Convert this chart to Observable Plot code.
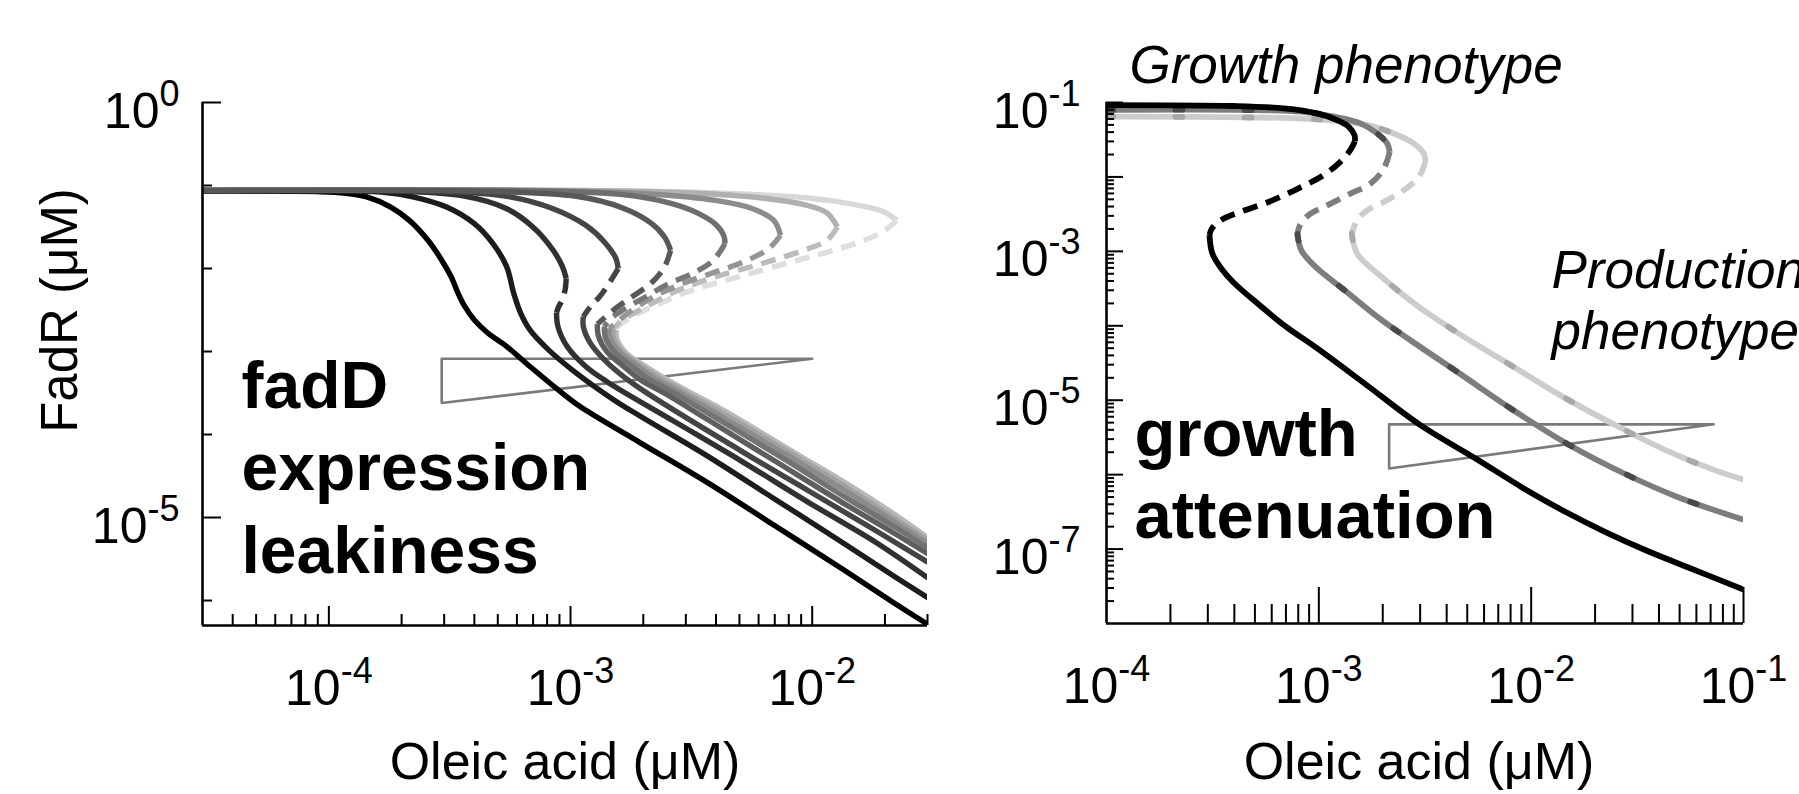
<!DOCTYPE html>
<html><head><meta charset="utf-8">
<script src="https://cdn.jsdelivr.net/npm/d3@7"></script>
<script src="https://cdn.jsdelivr.net/npm/@observablehq/plot@0.6"></script>
<style>
body{margin:0;background:#fff;}
#wrap{position:relative;width:1799px;height:794px;overflow:hidden;background:#fff;}
#left,#right{position:absolute;top:0;}
#left{left:0;} #right{left:940px;}
</style></head><body><div id="wrap"><div id="left"></div><div id="right"></div></div>
<script>
// ---------- text ----------
const xLabel = "Oleic acid (μM)";
const yLabelLeft = "FadR (μM)";
const leftNote = "fadD\nexpression\nleakiness";
const rightNote = "growth\nattenuation";
const growthText = "Growth phenotype";
const productionText = "Production\nphenotype";

// ---------- axes ----------
const leftXDomain = [3e-5, 3e-2];
const leftYDomain = [5e-7, 1];
const leftXLabelTicks = [1e-4, 1e-3, 1e-2];
const leftXMinorTicks = [4e-5,5e-5,6e-5,7e-5,8e-5,9e-5,2e-4,3e-4,4e-4,5e-4,6e-4,7e-4,8e-4,9e-4,2e-3,3e-3,4e-3,5e-3,6e-3,7e-3,8e-3,9e-3,2e-2,3e-2];
const leftYLabelTicks = [1, 1e-5];
const leftYShortTicks = [1e-1, 1e-2, 1e-3, 1e-4, 1e-6];

const rightXDomain = [1e-4, 1e-1];
const rightYDomain = [1e-8, 1e-1];
const rightXLabelTicks = [1e-4, 1e-3, 1e-2, 1e-1];
const rightXMajorTicks = [1e-3, 1e-2, 1e-1];
const rightYLabelTicks = [1e-1, 1e-3, 1e-5, 1e-7];
const rightYMajorTicks = [1e-1, 1e-2, 1e-3, 1e-4, 1e-5, 1e-6, 1e-7];
const mantissas = [2, 3, 4, 5, 6, 7, 8, 9];
const rightXMinorTicks = [1e-4, 1e-3, 1e-2].flatMap(d => mantissas.map(m => m * d));
const rightYMinorTicks = [1e-8, 1e-7, 1e-6, 1e-5, 1e-4, 1e-3, 1e-2].flatMap(d => mantissas.map(m => m * d));

// ---------- left panel curves: [log10 oleic, log10 FadR] ----------
const A_solid = [[-4.53,-1.068],[-4.032,-1.075],[-3.936,-1.092],[-3.840,-1.14],[-3.744,-1.26],[-3.667,-1.42],[-3.590,-1.66],[-3.533,-1.90],[-3.494,-2.10],[-3.465,-2.30],[-3.437,-2.46],[-3.398,-2.62],[-3.341,-2.78],[-3.264,-2.94],[-3.168,-3.18],[-3.052,-3.46],[-2.962,-3.66],[-2.711,-4.10],[-2.433,-4.58],[-2.154,-5.10],[-1.875,-5.62],[-1.666,-6.02],[-1.52,-6.29]];
const B_solid = [[-4.53,-1.068],[-3.90,-1.07],[-3.782,-1.08],[-3.648,-1.14],[-3.513,-1.26],[-3.398,-1.46],[-3.321,-1.70],[-3.264,-1.98],[-3.235,-2.30],[-3.206,-2.54],[-3.168,-2.74],[-3.091,-2.98],[-2.976,-3.26],[-2.822,-3.58],[-2.711,-3.78],[-2.433,-4.26],[-2.154,-4.78],[-1.875,-5.30],[-1.666,-5.70],[-1.52,-5.97]];
const C_upper = [[-4.53,-1.065],[-3.70,-1.07],[-3.456,-1.12],[-3.264,-1.28],[-3.148,-1.52],[-3.072,-1.78],[-3.033,-1.98],[-3.018,-2.12]];
const C_mid = [[-3.018,-2.12],[-3.022,-2.25],[-3.035,-2.38],[-3.049,-2.46],[-3.058,-2.53]];
const C_lower = [[-3.058,-2.53],[-3.052,-2.70],[-3.014,-2.94],[-2.937,-3.18],[-2.851,-3.36],[-2.572,-3.84],[-2.293,-4.32],[-2.014,-4.82],[-1.736,-5.30],[-1.52,-5.73]];
const D_upper = [[-4.53,-1.065],[-3.552,-1.07],[-3.264,-1.13],[-3.072,-1.28],[-2.937,-1.48],[-2.860,-1.68],[-2.812,-1.88],[-2.803,-2.00]];
const D_mid = [[-2.803,-2.00],[-2.841,-2.18],[-2.880,-2.34],[-2.918,-2.46],[-2.947,-2.58]];
const D_lower = [[-2.947,-2.58],[-2.947,-2.70],[-2.918,-2.90],[-2.860,-3.10],[-2.745,-3.38],[-2.293,-4.20],[-2.014,-4.68],[-1.736,-5.16],[-1.52,-5.54]];
const E_upper = [[-4.53,-1.06],[-3.360,-1.07],[-2.976,-1.13],[-2.784,-1.27],[-2.668,-1.45],[-2.611,-1.62],[-2.586,-1.78]];
const E_mid = [[-2.586,-1.78],[-2.611,-1.98],[-2.668,-2.18],[-2.745,-2.34],[-2.822,-2.50],[-2.870,-2.62],[-2.889,-2.67]];
const E_lower = [[-2.889,-2.67],[-2.884,-2.82],[-2.85,-3.00],[-2.78,-3.18],[-2.711,-3.34],[-2.60,-3.52],[-2.433,-3.82],[-2.154,-4.32],[-1.875,-4.82],[-1.666,-5.18],[-1.52,-5.44]];
const F_upper = [[-4.53,-1.058],[-3.168,-1.065],[-2.784,-1.11],[-2.592,-1.21],[-2.476,-1.33],[-2.399,-1.47],[-2.365,-1.61],[-2.361,-1.70]];
const F_mid = [[-2.361,-1.70],[-2.409,-1.90],[-2.496,-2.06],[-2.592,-2.18],[-2.688,-2.34],[-2.784,-2.50],[-2.841,-2.62],[-2.860,-2.70]];
const F_lower = [[-2.860,-2.70],[-2.855,-2.84],[-2.82,-3.00],[-2.75,-3.17],[-2.683,-3.32],[-2.57,-3.50],[-2.41,-3.78],[-2.13,-4.27],[-1.86,-4.76],[-1.655,-5.12],[-1.52,-5.37]];
const G_upper = [[-4.53,-1.056],[-3.168,-1.06],[-2.688,-1.10],[-2.400,-1.18],[-2.246,-1.28],[-2.159,-1.42],[-2.131,-1.60]];
const G_mid = [[-2.131,-1.60],[-2.179,-1.76],[-2.284,-1.92],[-2.419,-2.06],[-2.553,-2.20],[-2.668,-2.36],[-2.764,-2.54],[-2.812,-2.66],[-2.841,-2.72]];
const G_lower = [[-2.841,-2.72],[-2.836,-2.85],[-2.80,-3.00],[-2.73,-3.16],[-2.66,-3.31],[-2.55,-3.49],[-2.39,-3.76],[-2.11,-4.24],[-1.84,-4.72],[-1.645,-5.08],[-1.52,-5.32]];
const H_upper = [[-4.53,-1.054],[-2.976,-1.06],[-2.496,-1.09],[-2.208,-1.15],[-2.035,-1.23],[-1.939,-1.33],[-1.896,-1.50]];
const H_mid = [[-1.896,-1.50],[-1.939,-1.66],[-2.035,-1.78],[-2.208,-1.94],[-2.400,-2.10],[-2.553,-2.26],[-2.688,-2.46],[-2.784,-2.62],[-2.826,-2.73]];
const H_lower = [[-2.826,-2.73],[-2.82,-2.86],[-2.785,-3.01],[-2.715,-3.16],[-2.645,-3.30],[-2.535,-3.48],[-2.375,-3.74],[-2.10,-4.21],[-1.83,-4.69],[-1.64,-5.05],[-1.52,-5.28]];
const I_upper = [[-4.53,-1.052],[-2.976,-1.06],[-2.400,-1.09],[-2.016,-1.15],[-1.823,-1.23],[-1.708,-1.31],[-1.650,-1.42]];
const I_mid = [[-1.650,-1.42],[-1.708,-1.56],[-1.823,-1.70],[-1.958,-1.82],[-2.111,-1.94],[-2.304,-2.10],[-2.496,-2.26],[-2.630,-2.42],[-2.745,-2.58],[-2.803,-2.70],[-2.812,-2.74]];
const I_lower = [[-2.812,-2.74],[-2.806,-2.87],[-2.77,-3.02],[-2.70,-3.16],[-2.63,-3.29],[-2.52,-3.47],[-2.36,-3.72],[-2.09,-4.19],[-1.82,-4.66],[-1.63,-5.02],[-1.52,-5.25]];
const leftWedge = [[-3.533,-3.088],[-2.0,-3.088],[-3.533,-3.62],[-3.533,-3.088]];

// ---------- right panel curves ----------
const K_upper = [[-4.0,-1.034],[-3.400,-1.047],[-3.165,-1.079],[-3.008,-1.146],[-2.914,-1.236],[-2.859,-1.326],[-2.832,-1.438],[-2.83,-1.52]];
const K_mid = [[-2.83,-1.52],[-2.852,-1.64],[-2.900,-1.80],[-2.98,-1.98],[-3.10,-2.16],[-3.24,-2.34],[-3.38,-2.48],[-3.46,-2.58],[-3.505,-2.70],[-3.515,-2.78]];
const K_lower = [[-3.515,-2.78],[-3.501,-3.033],[-3.452,-3.258],[-3.403,-3.415],[-3.286,-3.707],[-3.150,-4.022],[-3.014,-4.291],[-2.780,-4.785],[-2.527,-5.324],[-2.254,-5.796],[-2.039,-6.178],[-1.844,-6.492],[-1.650,-6.771],[-1.455,-7.022],[-1.260,-7.247],[-1.0,-7.545]];
const M_upper = [[-4.0,-1.10],[-3.086,-1.124],[-2.929,-1.191],[-2.804,-1.281],[-2.725,-1.416],[-2.678,-1.551],[-2.666,-1.663]];
const M_mid = [[-2.666,-1.663],[-2.694,-1.887],[-2.757,-2.090],[-2.851,-2.224],[-2.961,-2.382],[-3.039,-2.494],[-3.086,-2.629],[-3.101,-2.764]];
const M_lower = [[-3.101,-2.764],[-3.082,-2.988],[-3.014,-3.213],[-2.877,-3.527],[-2.721,-3.887],[-2.565,-4.201],[-2.332,-4.651],[-2.078,-5.145],[-1.825,-5.594],[-1.552,-5.998],[-1.299,-6.313],[-1.0,-6.605]];
const L_upper = [[-4.0,-1.19],[-3.008,-1.227],[-2.772,-1.304],[-2.647,-1.416],[-2.553,-1.551],[-2.506,-1.685],[-2.498,-1.798]];
const L_mid = [[-2.498,-1.798],[-2.529,-2.000],[-2.600,-2.179],[-2.694,-2.337],[-2.772,-2.449],[-2.820,-2.584],[-2.845,-2.76]];
const L_lower = [[-2.845,-2.76],[-2.819,-3.033],[-2.702,-3.348],[-2.526,-3.752],[-2.312,-4.156],[-2.078,-4.561],[-1.844,-4.965],[-1.611,-5.324],[-1.357,-5.684],[-1.123,-5.953],[-1.0,-6.066]];
const rightWedge = [[-2.669,-5.324],[-1.140,-5.324],[-2.669,-5.917],[-2.669,-5.324]];

// ---------- helpers ----------
const pts = arr => arr.map(([lx, ly]) => ({x: 10 ** lx, y: 10 ** ly}));
const fmtPow = d => "10^" + Math.round(Math.log10(d));
const FONT = "'Liberation Sans', Arial, Helvetica, sans-serif";
const DASH = "15,9";
function solid(arr, color, w = 5.4) {
  return Plot.line(pts(arr), {x: "x", y: "y", stroke: color, strokeWidth: w, curve: "catmull-rom", clip: true, strokeLinecap: "butt"});
}
function dashed(arr, color, w = 5.4) {
  return Plot.line(pts(arr), {x: "x", y: "y", stroke: color, strokeWidth: w, curve: "catmull-rom", clip: true, strokeDasharray: DASH, strokeLinecap: "butt"});
}
function spots(arr, color, w = 5.8) {
  return Plot.line(pts(arr), {x: "x", y: "y", stroke: color, strokeWidth: w, curve: "catmull-rom", clip: true, strokeDasharray: "7,62"});
}
function supLabels(svg) {
  d3.select(svg).selectAll('g[aria-label="x-axis tick label"] text, g[aria-label="y-axis tick label"] text').each(function () {
    const m = /^10\^(.+)$/.exec(this.textContent);
    if (!m) return;
    this.textContent = "";
    const s = d3.select(this);
    s.append("tspan").text("10");
    s.append("tspan").attr("dy", -22).attr("font-size", "36px").text(m[1]);
  });
}

const left = Plot.plot({
  width: 940, height: 794,
  marginLeft: 202, marginRight: 13, marginTop: 102, marginBottom: 169,
  x: {type: "log", domain: leftXDomain},
  y: {type: "log", domain: leftYDomain},
  style: {fontFamily: FONT, fontSize: "50px", color: "#000", background: "#fff"},
  marks: [
    Plot.line(pts(leftWedge), {x: "x", y: "y", stroke: "#7a7a7a", strokeWidth: 2.6}),
    solid(A_solid, "#000000"),
    solid(B_solid, "#1c1c1c"),
    solid(C_upper, "#303030"), dashed(C_mid, "#303030"), solid(C_lower, "#303030"),
    solid(D_upper, "#444444"), dashed(D_mid, "#444444"), solid(D_lower, "#444444"),
    solid(I_upper, "#d8d8d8"), dashed(I_mid, "#dedede"), solid(I_lower, "#b8b8b8"),
    solid(H_upper, "#b0b0b0"), dashed(H_mid, "#bbbbbb"), solid(H_lower, "#a2a2a2"),
    solid(G_upper, "#8c8c8c"), dashed(G_mid, "#959595"), solid(G_lower, "#8c8c8c"),
    solid(F_upper, "#6e6e6e"), dashed(F_mid, "#777777"), solid(F_lower, "#737373"),
    solid(E_upper, "#585858"), dashed(E_mid, "#585858"), solid(E_lower, "#5e5e5e"),
    Plot.ruleX([leftXDomain[0]], {stroke: "#000", strokeWidth: 2.6}),
    Plot.ruleY([leftYDomain[0]], {stroke: "#000", strokeWidth: 2.6}),
    Plot.axisX({anchor: "bottom", ticks: leftXLabelTicks, tickSize: -19, fill: "none", strokeWidth: 2, label: null}),
    Plot.axisX({anchor: "bottom", ticks: leftXMinorTicks, tickSize: -11, fill: "none", strokeWidth: 2, label: null}),
    Plot.axisX({anchor: "bottom", ticks: leftXLabelTicks, tickSize: 0, tickPadding: 44, tickFormat: fmtPow, fontSize: 50, label: null}),
    Plot.axisY({anchor: "left", ticks: leftYLabelTicks, tickSize: -19, fill: "none", strokeWidth: 2, label: null}),
    Plot.axisY({anchor: "left", ticks: leftYShortTicks, tickSize: -10, fill: "none", strokeWidth: 2, label: null}),
    Plot.axisY({anchor: "left", ticks: leftYLabelTicks, tickSize: 0, tickPadding: 23, dy: 9, tickFormat: fmtPow, fontSize: 50, label: null}),
    Plot.text([xLabel], {text: d => d, frameAnchor: "bottom", dy: 153, lineAnchor: "bottom", fontSize: 52}),
    Plot.text([yLabelLeft], {text: d => d, frameAnchor: "top-left", dx: -126, dy: 208, rotate: -90, lineAnchor: "bottom", textAnchor: "middle", fontSize: 51}),
    Plot.text([leftNote], {text: d => d, frameAnchor: "top-left", dx: 39, dy: 470, lineAnchor: "bottom", textAnchor: "start", fontWeight: "bold", fontSize: 66, lineHeight: 1.25})
  ]
});
supLabels(left);
document.getElementById("left").appendChild(left);

const right = Plot.plot({
  width: 859, height: 794,
  marginLeft: 166, marginRight: 56, marginTop: 102, marginBottom: 171,
  x: {type: "log", domain: rightXDomain},
  y: {type: "log", domain: rightYDomain},
  style: {fontFamily: FONT, fontSize: "50px", color: "#000", background: "#fff"},
  marks: [
    Plot.line(pts(rightWedge), {x: "x", y: "y", stroke: "#7a7a7a", strokeWidth: 2.6}),
    solid(L_upper, "#cccccc", 5.8), dashed(L_mid, "#cccccc", 5.8), solid(L_lower, "#cccccc", 5.8),
    spots(L_upper, "#a8a8a8"), spots(L_lower, "#a8a8a8"),
    solid(M_upper, "#7d7d7d", 5.8), dashed(M_mid, "#7d7d7d", 5.8), solid(M_lower, "#7d7d7d", 5.8),
    spots(M_upper, "#4a4a4a"), spots(M_lower, "#4a4a4a"),
    solid(K_upper, "#000000", 5.8), dashed(K_mid, "#000000", 5.8), solid(K_lower, "#000000", 5.8),
    Plot.ruleX([rightXDomain[0]], {stroke: "#000", strokeWidth: 2.6}),
    Plot.ruleY([rightYDomain[0]], {stroke: "#000", strokeWidth: 2.6}),
    Plot.axisX({anchor: "bottom", ticks: rightXMajorTicks, tickSize: -36, fill: "none", strokeWidth: 2, label: null}),
    Plot.axisX({anchor: "bottom", ticks: rightXMinorTicks, tickSize: -19, fill: "none", strokeWidth: 2, label: null}),
    Plot.axisX({anchor: "bottom", ticks: rightXLabelTicks, tickSize: 0, tickPadding: 44, tickFormat: fmtPow, fontSize: 50, label: null}),
    Plot.axisY({anchor: "left", ticks: rightYMajorTicks, tickSize: -17, fill: "none", strokeWidth: 2, label: null}),
    Plot.axisY({anchor: "left", ticks: rightYMinorTicks, tickSize: -8, fill: "none", strokeWidth: 2, label: null}),
    Plot.axisY({anchor: "left", ticks: rightYLabelTicks, tickSize: 0, tickPadding: 26, dy: 9, tickFormat: fmtPow, fontSize: 50, label: null}),
    Plot.text([xLabel], {text: d => d, frameAnchor: "bottom", dx: -6, dy: 155, lineAnchor: "bottom", fontSize: 52}),
    Plot.text([growthText], {text: d => d, frameAnchor: "top-left", dx: 23, dy: -20, lineAnchor: "bottom", textAnchor: "start", fontStyle: "italic", fontSize: 53}),
    Plot.text([productionText], {text: d => d, frameAnchor: "top-left", dx: 445, dy: 246, lineAnchor: "bottom", textAnchor: "start", fontStyle: "italic", fontSize: 53, lineHeight: 1.15}),
    Plot.text([rightNote], {text: d => d, frameAnchor: "top-left", dx: 28, dy: 435, lineAnchor: "bottom", textAnchor: "start", fontWeight: "bold", fontSize: 67, lineHeight: 1.22})
  ]
});
supLabels(right);
document.getElementById("right").appendChild(right);
</script>
</body></html>
